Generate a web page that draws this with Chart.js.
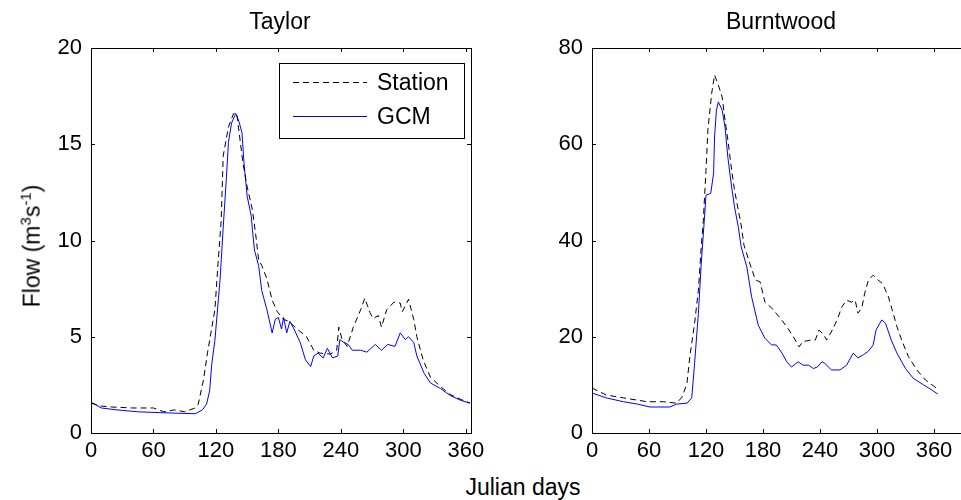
<!DOCTYPE html>
<html>
<head>
<meta charset="utf-8">
<script src="https://cdn.jsdelivr.net/npm/chart.js"></script>
<style>
  body { margin: 0; width: 961px; height: 500px; overflow: hidden; background: #fff; position: relative;
         font-family: "Liberation Sans", Arial, sans-serif; color: #000; }
  canvas { position: absolute; top: 0; }
  .lbl { position: absolute; font-size: 23px; white-space: nowrap; transform: translate(-50%, -50%); }
  .lbl sup { font-size: 15px; }
</style>
<script>
  // Taylor river, daily mean flow (m3/s) by Julian day
  var taylorStationDay = [0,10,20,40,60,70,80,90,100,103,108,112,119,122,125,127,132,137,140,146,150,155,158,161,164,169,174,179,185,190,198,207,214,220,230,236,238,241,246,252,259,263,268,271,276,279,284,291,297,299,305,310,313,319,326,336,345,355,364];
  var taylorStationFlow = [1.55,1.4,1.35,1.3,1.3,1.1,1.2,1.1,1.3,1.5,2.75,4.2,6.4,8.8,11.0,14.4,15.9,16.6,16.6,14.0,12.8,11.6,10.4,9.0,8.7,8.0,6.9,6.3,5.9,5.8,5.4,5.0,4.3,4.15,4.1,4.3,5.5,4.9,4.5,5.5,6.4,7.0,6.25,5.95,6.1,5.5,6.4,6.8,6.75,6.3,6.95,5.9,5.0,3.8,2.9,2.4,2.0,1.75,1.56];
  var taylorGcmDay = [0,10,25,45,70,100,107,111,114,116,119,124,127,130,132,135,139,142,145,147,150,154,155,157,161,164,169,174,177,180,183,185,188,191,195,201,206,211,214,218,223,227,232,237,239,243,247,251,259,265,273,279,285,292,297,302,305,310,313,320,326,336,345,355,364];
  var taylorGcmFlow = [1.6,1.3,1.2,1.1,1.05,1.0,1.2,1.5,2.2,3.6,4.8,8.0,10.7,13.2,15.1,16.1,16.6,16.2,15.6,14.0,12.3,11.25,10.6,9.5,8.7,7.4,6.4,5.2,5.9,6.0,5.4,6.0,5.2,5.8,5.4,4.7,3.8,3.45,4.0,4.15,3.9,4.4,3.9,4.0,4.85,4.7,4.6,4.3,4.3,4.2,4.6,4.3,4.6,4.5,5.2,4.85,5.0,4.7,4.0,3.1,2.6,2.3,1.95,1.7,1.55];

  // Burntwood river
  var burntStationDay = [0,15,33,58,75,89,95,100,103,108,112,115,117,120,122,126,129,133,137,140,143,147,150,154,157,160,166,172,177,182,189,198,205,212,218,222,230,235,239,244,247,253,258,263,268,273,277,280,284,287,291,296,301,306,312,316,321,326,333,342,351,358,364];
  var burntStationFlow = [9.35,7.9,7.3,6.5,6.5,6.2,7.5,10.4,15.9,22.8,29.7,38.7,43.6,54.6,63,70.6,74.4,72.3,69.8,65,60.9,54.6,50.5,46.3,43.2,39,35.3,31.8,31.4,27.2,26,23.9,22.1,20,17.9,19,19.3,19.3,21.4,20.4,19.3,21.4,23.5,26.2,27.6,27.2,27.6,24.9,26,29,31.8,32.8,31.8,31,28.3,25.6,22.1,19.3,15.9,13.1,11,10,9.1];
  var burntGcmDay = [0,15,33,48,61,82,89,100,105,108,112,115,118,120,125,128,129,131,133,137,140,143,147,150,154,157,163,168,175,182,189,194,200,205,210,217,222,228,233,237,242,245,252,261,268,275,280,286,291,296,299,305,309,315,321,330,338,349,358,364];
  var burntGcmFlow = [8.3,7.3,6.5,6.0,5.4,5.4,6.0,6.2,7.3,14.5,24.9,35.3,43.6,49.4,49.8,54,61.5,67.1,68.8,67.1,63.6,57.3,51.1,47,42.8,38.7,34.5,28.3,22.4,19.7,18.3,18.3,16.6,14.8,13.7,14.8,14.1,14.1,13.4,13.7,14.8,14.5,13.1,13.1,14.1,16.6,15.6,16.3,17,18.3,21.4,23.5,22.8,19.3,16.6,13.4,11.4,10,8.9,8.1];

  var dayTicks = [0, 60, 120, 180, 240, 300, 360];
  var taylorFlowTicks = [0, 5, 10, 15, 20];
  var burntFlowTicks = [0, 20, 40, 60, 80];
  var seriesNames = ["Station", "GCM"];
</script>
</head>
<body>
  <canvas id="taylorChart" width="500" height="470" style="left:0px"></canvas>
  <canvas id="burntChart" width="500" height="470" style="left:501px"></canvas>
  <div class="lbl" style="left:280px; top:21px">Taylor</div>
  <div class="lbl" style="left:781px; top:21px">Burntwood</div>
  <div class="lbl" style="left:31px; top:246px; transform: translate(-50%,-50%) rotate(-90deg)">Flow (m<sup>3</sup>s<sup>-1</sup>)</div>
  <div class="lbl" style="left:523px; top:487px">Julian days</div>

<script>
  var FONT = { family: '"Liberation Sans", Arial, sans-serif', size: 22 };

  function pairs(xs, ys) {
    return xs.map(function (x, i) { return { x: x, y: ys[i] }; });
  }

  // box round the plot area with inward ticks on all four sides, like matlab
  var boxPlugin = {
    id: 'box',
    afterDraw: function (chart) {
      var ctx = chart.ctx, a = chart.chartArea, sx = chart.scales.x, sy = chart.scales.y;
      ctx.save();
      ctx.strokeStyle = '#000';
      ctx.lineWidth = 1;
      ctx.strokeRect(Math.round(a.left) + 0.5, Math.round(a.top) + 0.5, Math.round(a.right - a.left), Math.round(a.bottom - a.top));
      ctx.beginPath();
      sx.ticks.forEach(function (t) {
        var px = Math.round(sx.getPixelForValue(t.value)) + 0.5;
        ctx.moveTo(px, a.bottom); ctx.lineTo(px, a.bottom - 4);
        ctx.moveTo(px, a.top); ctx.lineTo(px, a.top + 4);
      });
      sy.ticks.forEach(function (t) {
        var py = Math.round(sy.getPixelForValue(t.value)) + 0.5;
        ctx.moveTo(a.left, py); ctx.lineTo(a.left + 4, py);
        ctx.moveTo(a.right, py); ctx.lineTo(a.right - 4, py);
      });
      ctx.stroke();
      ctx.restore();
    }
  };

  // legend drawn inside the plot area (top right)
  var innerLegend = {
    id: 'innerLegend',
    afterDraw: function (chart, args, opts) {
      if (!opts.show) return;
      var ctx = chart.ctx;
      ctx.save();
      ctx.fillStyle = '#fff';
      ctx.fillRect(opts.x, opts.y, opts.w, opts.h);
      ctx.strokeStyle = '#000';
      ctx.lineWidth = 1;
      ctx.strokeRect(opts.x + 0.5, opts.y + 0.5, opts.w, opts.h);
      ctx.font = '23px ' + FONT.family;
      ctx.textBaseline = 'middle';
      chart.data.datasets.forEach(function (ds, i) {
        var ly = opts.y + 19.5 + i * 34;
        ctx.strokeStyle = ds.borderColor;
        ctx.setLineDash(ds.borderDash || []);
        ctx.beginPath();
        ctx.moveTo(opts.x + 14, ly);
        ctx.lineTo(opts.x + 88, ly);
        ctx.stroke();
        ctx.setLineDash([]);
        ctx.fillStyle = '#000';
        ctx.fillText(ds.label, opts.x + 98, ly + 1);
      });
      ctx.restore();
    }
  };

  function fixedTicks(values) {
    return function (s) { s.ticks = values.map(function (v) { return { value: v }; }); };
  }

  function makeChart(id, stationDay, stationFlow, gcmDay, gcmFlow, xMax, flowTicks, legend) {
    return new Chart(document.getElementById(id), {
      type: 'line',
      data: {
        datasets: [
          { label: seriesNames[0], data: pairs(stationDay, stationFlow), borderColor: '#000',
            borderWidth: 1, borderDash: [6, 4], pointRadius: 0, tension: 0, fill: false },
          { label: seriesNames[1], data: pairs(gcmDay, gcmFlow), borderColor: '#0000ff',
            borderWidth: 1, pointRadius: 0, tension: 0, fill: false }
        ]
      },
      options: {
        responsive: false,
        animation: false,
        layout: { padding: { top: 48, right: 29, left: 0, bottom: 0 } },
        plugins: {
          legend: { display: false },
          tooltip: { enabled: false },
          innerLegend: legend
        },
        scales: {
          x: {
            type: 'linear', min: 0, max: xMax,
            afterBuildTicks: fixedTicks(dayTicks),
            ticks: { font: FONT, color: '#000', padding: 5, maxRotation: 0, autoSkip: false },
            grid: { display: false, drawTicks: false },
            border: { display: false },
            afterFit: function (s) { s.height = 37; }
          },
          y: {
            min: 0, max: flowTicks[flowTicks.length - 1],
            afterBuildTicks: fixedTicks(flowTicks),
            ticks: { font: FONT, color: '#000', padding: 9, autoSkip: false },
            grid: { display: false, drawTicks: false },
            border: { display: false },
            afterFit: function (s) { s.width = 91; }
          }
        }
      },
      plugins: [boxPlugin, innerLegend]
    });
  }

  makeChart('taylorChart', taylorStationDay, taylorStationFlow, taylorGcmDay, taylorGcmFlow, 365, taylorFlowTicks,
            { show: true, x: 279, y: 63, w: 185, h: 75 });
  makeChart('burntChart', burntStationDay, burntStationFlow, burntGcmDay, burntGcmFlow, 400, burntFlowTicks,
            { show: false });
</script>
</body>
</html>
